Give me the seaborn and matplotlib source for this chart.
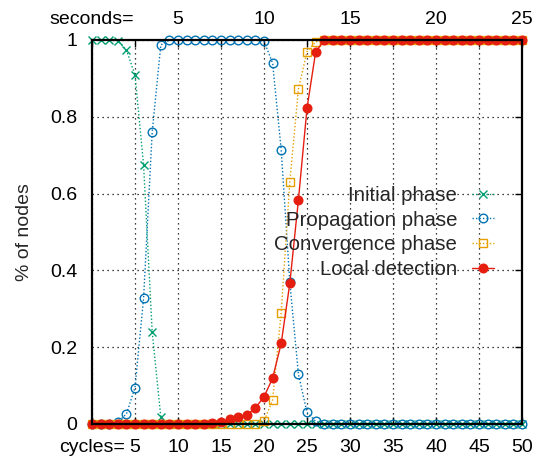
import matplotlib
matplotlib.use("Agg")
import matplotlib.pyplot as plt
import seaborn as sns
import numpy as np

# ---- data (cycles 0..50) ----
cycles = list(range(0, 51))
initial_phase = [1, 1, 1, 0.998, 0.974, 0.909, 0.674, 0.24, 0.018] + [0] * 42
propagation_phase = ([0, 0, 0, 0.005, 0.026, 0.095, 0.328, 0.76, 0.987]
                     + [1] * 11
                     + [0.997, 0.94, 0.714, 0.37, 0.13, 0.03, 0.007]
                     + [0] * 24)
convergence_phase = ([0] * 20
                     + [0.008, 0.062, 0.29, 0.63, 0.872, 0.97, 0.995]
                     + [1] * 24)
local_detection = ([0] * 14
                   + [0.002, 0.006, 0.012, 0.017, 0.023, 0.042, 0.071, 0.119,
                      0.21, 0.366, 0.583, 0.822, 0.968]
                   + [1] * 24)
series_labels = ["Initial phase", "Propagation phase", "Convergence phase", "Local detection"]
y_ticks = [0, 0.2, 0.4, 0.6, 0.8, 1]
y_tick_labels = ["0", "0.2", "0.4", "0.6", "0.8", "1"]
x_ticks = [0, 5, 10, 15, 20, 25, 30, 35, 40, 45, 50]
x_tick_labels = ["cycles=", "5", "10", "15", "20", "25", "30", "35", "40", "45", "50"]
sec_ticks = [0, 5, 10, 15, 20, 25]
sec_tick_labels = ["seconds=", "5", "10", "15", "20", "25"]

sns.set_style("white")
plt.rcParams["font.family"] = ["Liberation Sans", "DejaVu Sans"]
FS = 14
LFS = 14.7

fig = plt.figure(figsize=(5.47, 4.66), dpi=100)
ax = fig.add_axes([92 / 547, 1 - 424 / 466, 430 / 547, 384 / 466])

green = "#009e73"
blue = "#0072b2"
orange = "#e69f00"
red = "#e51e10"

kw = dict(ax=ax, clip_on=False, markersize=6.2, markeredgewidth=1.0, linewidth=1.0)
sns.lineplot(x=cycles, y=initial_phase, color=green, marker="x", markeredgecolor=green,
             linestyle=(0, (1, 1.5)), label=series_labels[0], **kw)
sns.lineplot(x=cycles, y=propagation_phase, color=blue, marker="o", markerfacecolor="none",
             markeredgecolor=blue, linestyle=(0, (1, 1.5)), label=series_labels[1], **kw)
sns.lineplot(x=cycles, y=convergence_phase, color=orange, marker="s", markerfacecolor="none",
             markeredgecolor=orange, linestyle=(0, (1, 1.5)), label=series_labels[2], **kw)
sns.lineplot(x=cycles, y=local_detection, color=red, marker="o", markerfacecolor=red,
             markeredgecolor=red, linestyle="-", label=series_labels[3], **kw)

ax.set_xlim(0, 50)
ax.set_ylim(0, 1)
ax.set_xticks(x_ticks)
ax.set_xticklabels(x_tick_labels, fontsize=FS)
ax.set_yticks(y_ticks)
ax.set_yticklabels(y_tick_labels, fontsize=FS)
ax.tick_params(axis="both", direction="in", length=5, width=1, top=False, right=True,
               colors="black")
ax.tick_params(axis="x", pad=11)
ax.tick_params(axis="y", pad=10.5)
ax.set_ylabel("% of nodes", fontsize=FS, labelpad=12)
ax.set_xlabel("")

ax.grid(True, color="black", linestyle=(0, (1, 3)), linewidth=0.9)
for s in ax.spines.values():
    s.set_color("black")
    s.set_linewidth(1.6)

ax2 = ax.twiny()
ax2.set_xlim(0, 25)
ax2.set_xticks(sec_ticks)
ax2.set_xticklabels(sec_tick_labels, fontsize=FS)
ax2.set_xticks([2.5, 7.5, 12.5, 17.5, 22.5], minor=True)
ax2.tick_params(axis="x", which="both", direction="in", length=5, width=1, pad=9, colors="black")
for s in ax2.spines.values():
    s.set_visible(False)
ax.set_zorder(ax2.get_zorder() + 1)
ax.patch.set_visible(False)

leg = ax.legend(loc="upper right", bbox_to_anchor=(0.935, 0.62), frameon=False,
                markerfirst=False, fontsize=LFS, handlelength=1.1, handletextpad=0.7,
                labelspacing=0.28, borderpad=0, borderaxespad=0)

fig.savefig("out.png", dpi=100)
